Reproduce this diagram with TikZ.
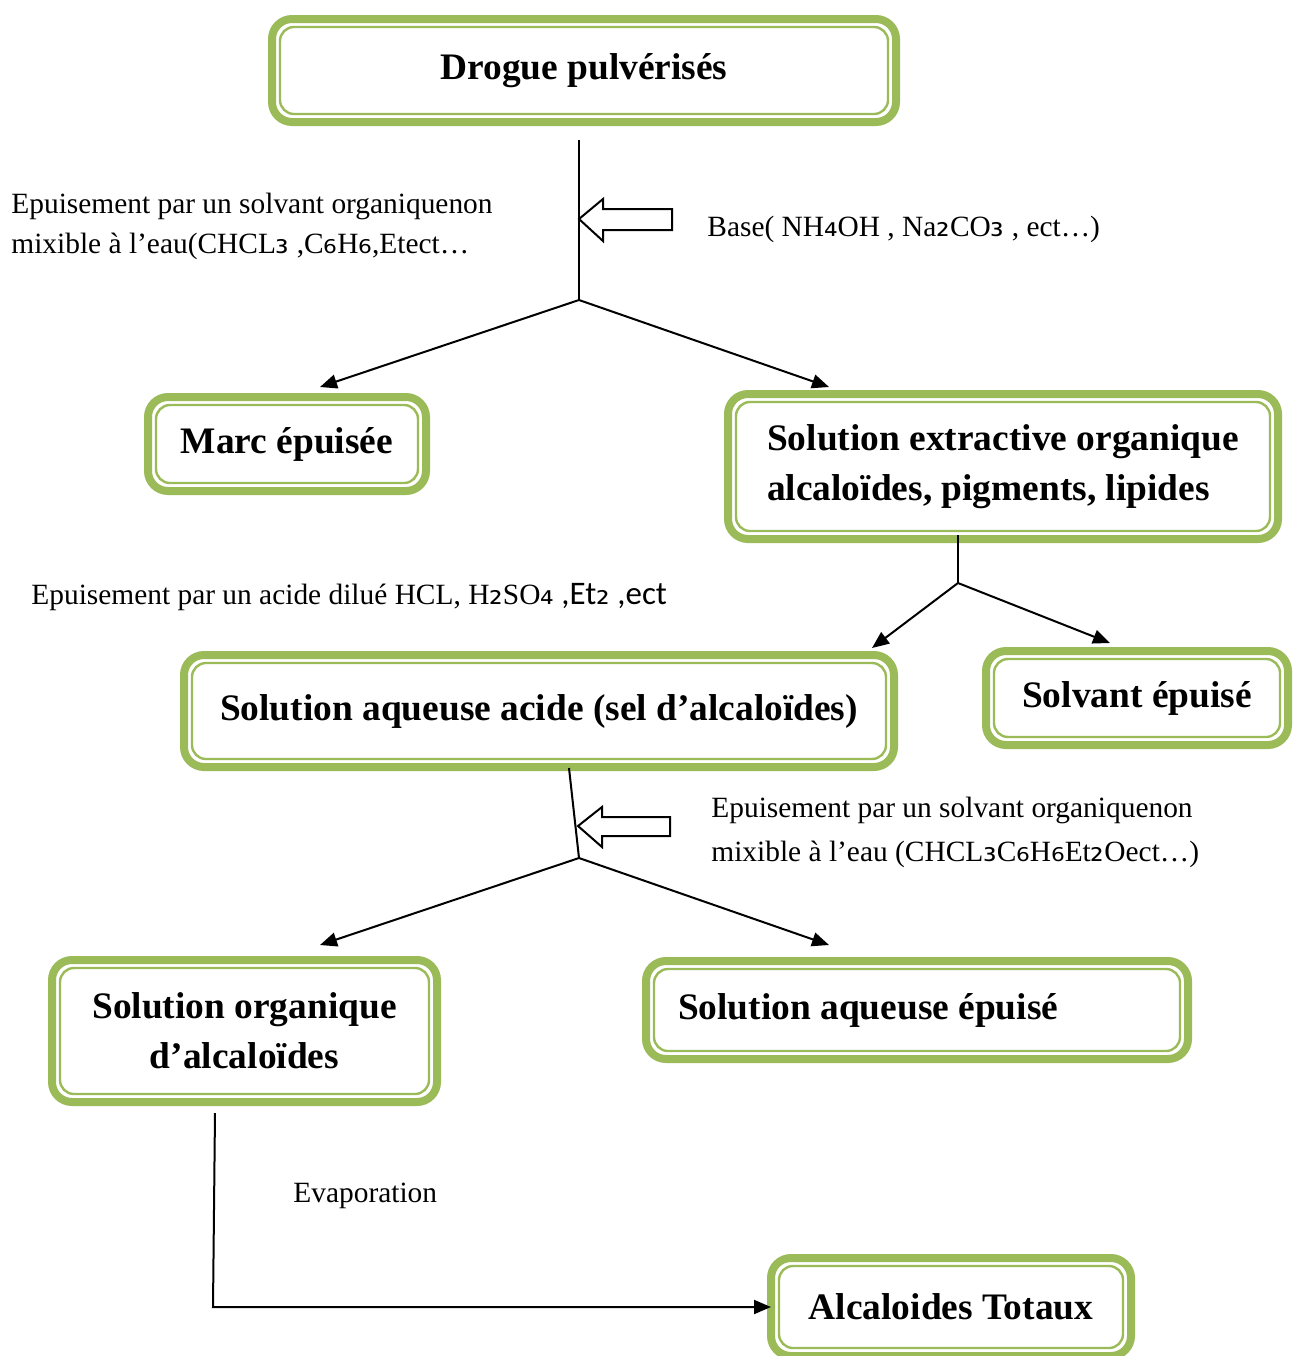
\documentclass[tikz,border=0pt]{standalone}
\usepackage{fontspec}
\setmainfont{Liberation Serif}
\newfontfamily\subf[Scale=1.15]{DejaVu Sans}
\newfontfamily\calf[Scale=1.12]{Carlito}
\usetikzlibrary{arrows.meta}
\definecolor{boxgreen}{HTML}{9BBB59}
\newcommand{\sbs}[1]{{\subf #1}}
\begin{document}
\begin{tikzpicture}[x=0.5pt,y=-0.5pt,
  gbox/.style={draw=boxgreen, line width=4pt, rounded corners=10pt, outer sep=0pt,
    font=\fontsize{18.7}{25}\selectfont\bfseries, align=center, inner sep=0pt},
  innerline/.style={draw=boxgreen, line width=1.2pt, rounded corners=7pt},
  txt/.style={font=\fontsize{14.7}{20}\selectfont, align=left, anchor=west, inner sep=0pt},
  conn/.style={line width=1pt, draw=black},
  arr/.style={conn, -{Triangle[length=8.5pt,width=7pt]}},
  hollow/.style={draw=black, line width=1pt, fill=white}
]
\useasboundingbox (0,0) rectangle (1293,1356);

% boxes
\node[gbox, minimum width=312pt, minimum height=51.5pt] (drogue) at (584,70.5) {Drogue pulvérisés};
\node[gbox, minimum width=139pt, minimum height=47pt] (marc) at (287,444) {Marc épuisée};
\node[gbox, minimum width=275pt, minimum height=72.5pt, align=left] (solx) at (1003,466.5) {Solution extractive organique\\alcaloïdes, pigments, lipides};
\node[gbox, minimum width=355pt, minimum height=56pt] (aqa) at (539,711) {Solution aqueuse acide (sel d’alcaloïdes)};
\node[gbox, minimum width=151pt, minimum height=47pt] (solv) at (1137,698) {Solvant épuisé};
\node[gbox, minimum width=192.5pt, minimum height=71pt] (sorg) at (244.5,1031) {Solution organique\\d’alcaloïdes};
\node[gbox, minimum width=271pt, minimum height=49pt] (saq) at (917,1010) {\makebox[239pt][l]{Solution aqueuse épuisé}};
\node[gbox, minimum width=180pt, minimum height=49pt] (alc) at (951,1307) {Alcaloides Totaux};

% inner lines of the double borders
\foreach \n in {drogue,marc,solx,aqa,solv,sorg,saq,alc}
  \draw[innerline] ([shift={(4pt,-4pt)}]\n.north west) rectangle ([shift={(-4pt,4pt)}]\n.south east);

% text labels
\node[txt] (t1) at (11,226) {Epuisement par un solvant organiquenon\\mixible à l’eau(CHCL\sbs{₃} ,C\sbs{₆}H\sbs{₆},Etect…};
\node[txt] (t2) at (707,229) {Base( NH\sbs{₄}OH , Na\sbs{₂}CO\sbs{₃} , ect…)};
\node[txt] (t3) at (31,597) {Epuisement par un acide dilué HCL, H\sbs{₂}SO\sbs{₄} {\calf ,Et\sbs{₂} ,ect}};
\node[txt, font=\fontsize{14.7}{22}\selectfont] (t4) at (711,832) {Epuisement par un solvant organiquenon\\mixible à l’eau (CHCL\sbs{₃}C\sbs{₆}H\sbs{₆}Et\sbs{₂}Oect…)};
\node[txt] (t5) at (293,1196) {Evaporation};

% coordinates
\coordinate (top1) at (579,140);
\coordinate (j1) at (579,300);
\coordinate (e1) at (320,387);
\coordinate (e2) at (829,387);
\coordinate (top2) at (958,535);
\coordinate (j2) at (958,583);
\coordinate (e3) at (872,648);
\coordinate (e4) at (1110,643);
\coordinate (top3) at (569,768);
\coordinate (j3) at (579,858);
\coordinate (e5) at (320,945);
\coordinate (e6) at (829,945);
\coordinate (top4) at (215,1113);
\coordinate (corner) at (213,1307);

% connectors
\draw[conn] (top1) -- (j1);
\draw[arr] (j1) -- (e1);
\draw[arr] (j1) -- (e2);
\draw[conn] (top2) -- (j2);
\draw[arr] (j2) -- (e3);
\draw[arr] (j2) -- (e4);
\draw[conn] (top3) -- (j3);
\draw[arr] (j3) -- (e5);
\draw[arr] (j3) -- (e6);
\draw[arr] (top4) -- (corner) -- (alc.west);

% hollow arrows
\draw[hollow] (579,219) -- (603,199) -- (603,209) -- (672,209) -- (672,230) -- (603,230) -- (603,241) -- cycle;
\draw[hollow] (578,826) -- (602,807) -- (602,817) -- (670,817) -- (670,836) -- (602,836) -- (602,847) -- cycle;
\end{tikzpicture}
\end{document}
